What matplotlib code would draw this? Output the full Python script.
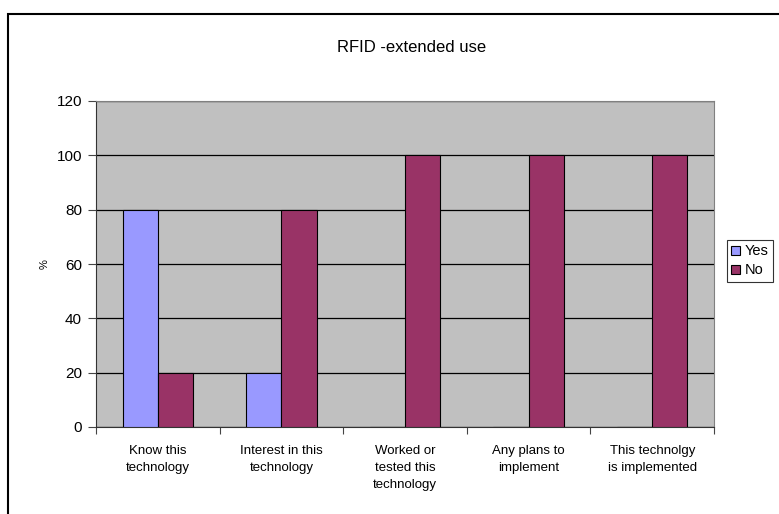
import matplotlib
matplotlib.use("Agg")
import matplotlib.pyplot as plt
import numpy as np
from matplotlib.patches import Rectangle

categories = ["Know this\ntechnology", "Interest in this\ntechnology",
              "Worked or\ntested this\ntechnology", "Any plans to\nimplement",
              "This technolgy\nis implemented"]
yes_vals = [80, 20, 0, 0, 0]
no_vals = [20, 80, 100, 100, 100]
yticks = [0, 20, 40, 60, 80, 100, 120]

W, H = 779, 514
fig = plt.figure(figsize=(W/100, H/100), dpi=100)
plt.rcParams['font.family'] = ['Liberation Sans', 'DejaVu Sans']

# outer chart border
fig.patches.append(Rectangle((8/W, -0.1), 1.2, 1 - 14/H + 0.1, transform=fig.transFigure,
                             fill=False, edgecolor='black', linewidth=1.5))

ax = fig.add_axes([96/W, 1-427/H, (714-96)/W, (427-101)/H])
ax.set_facecolor('#C0C0C0')
x = np.arange(len(categories))
bw = 0.285
ax.bar(x - bw/2, yes_vals, bw, color='#9999FF', edgecolor='black', linewidth=0.8, label='Yes', zorder=3)
ax.bar(x + bw/2, no_vals, bw, color='#993366', edgecolor='black', linewidth=0.8, label='No', zorder=3)
ax.set_xlim(-0.5, len(categories) - 0.5)
ax.set_ylim(0, 120)
ax.set_yticks(yticks)
ax.set_yticklabels([str(t) for t in yticks], fontsize=11)
ax.yaxis.grid(True, color='black', linewidth=0.9, zorder=1)
ax.set_axisbelow(True)
ax.set_xticks(np.arange(-0.5, len(categories)), minor=False)
ax.set_xticklabels([])
ax.set_xticks(x, minor=True)
ax.set_xticklabels(categories, minor=True, fontsize=9.5, linespacing=1.55)
ax.tick_params(axis='x', which='minor', length=0, pad=13)
ax.tick_params(axis='x', which='major', length=5, direction='out', color='#444444')
ax.tick_params(axis='y', length=6, direction='out', color='#444444', pad=4)
for s in ['top', 'right']:
    ax.spines[s].set_color('#808080')
ax.spines['left'].set_color('#333333')
ax.spines['bottom'].set_color('#333333')

fig.text(45/W, 1 - 264/H, '%', rotation=90, ha='center', va='center', fontsize=8)
fig.text(412/W, 1 - 47/H, 'RFID -extended use', ha='center', va='center', fontsize=12)

leg = fig.legend(loc='upper left', bbox_to_anchor=(727/W, 1-240/H), frameon=True, fontsize=10.5,
                 handlelength=0.6, handleheight=0.6, handletextpad=0.3, borderpad=0.3,
                 labelspacing=0.35, borderaxespad=0, fancybox=False)
leg.get_frame().set_edgecolor('black')
leg.get_frame().set_linewidth(0.8)

fig.savefig('out.png', dpi=100)
